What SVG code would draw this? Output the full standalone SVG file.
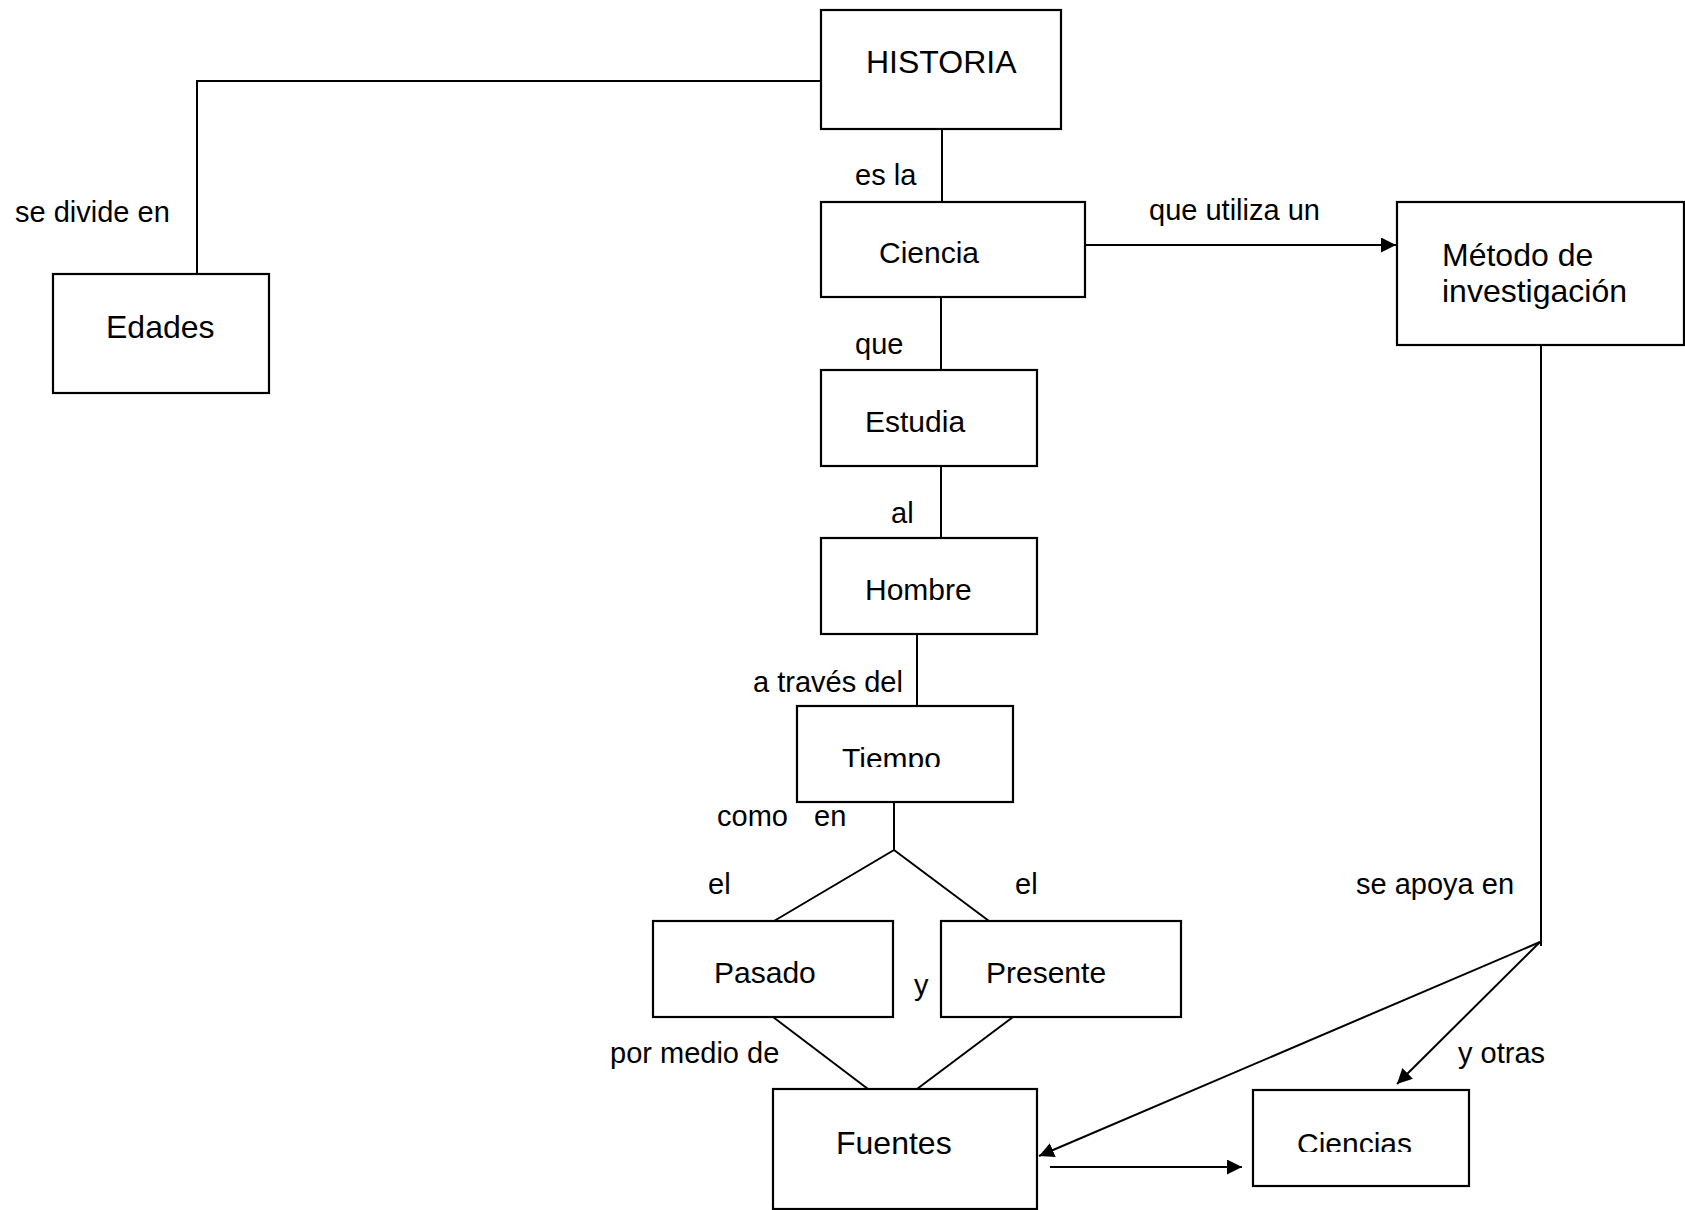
<svg xmlns="http://www.w3.org/2000/svg" width="1685" height="1210" viewBox="0 0 1685 1210">
  <style>
    .box { fill: #ffffff; stroke: #000000; stroke-width: 2.2; }
    .ln { fill: none; stroke: #000000; stroke-width: 2; }
    .t { font-family: "Liberation Sans", Arial, sans-serif; fill: #000000; }
    .lbl { font-size: 29px; }
    .nt { font-size: 30px; }
    .big { font-size: 32px; }
  </style>
  <defs>
    <marker id="arrow" viewBox="0 0 15 15" refX="15" refY="7.5" markerWidth="15" markerHeight="15" markerUnits="userSpaceOnUse" orient="auto">
      <path d="M0,0 L15,7.5 L0,15 Z" fill="#000000"/>
    </marker>
    <clipPath id="clipTiempo"><rect x="797" y="706" width="216" height="61"/></clipPath>
    <clipPath id="clipCiencias"><rect x="1253" y="1090" width="216" height="62"/></clipPath>
  </defs>
  <rect width="1685" height="1210" fill="#ffffff"/>

  <!-- connectors -->
  <g id="connectors">
    <polyline class="ln" points="821,81 197,81 197,274"/>
    <line class="ln" x1="942" y1="129" x2="942" y2="202"/>
    <line class="ln" x1="1085" y1="245" x2="1396" y2="245" marker-end="url(#arrow)"/>
    <line class="ln" x1="941" y1="297" x2="941" y2="370"/>
    <line class="ln" x1="941" y1="466" x2="941" y2="538"/>
    <line class="ln" x1="917" y1="634" x2="917" y2="706"/>
    <polyline class="ln" points="894,802 894,850 774,921"/>
    <line class="ln" x1="894" y1="850" x2="989" y2="921"/>
    <line class="ln" x1="773" y1="1017" x2="868" y2="1089"/>
    <line class="ln" x1="1013" y1="1017" x2="917" y2="1089"/>
    <line class="ln" x1="1541" y1="345" x2="1541" y2="946"/>
    <line class="ln" x1="1540" y1="942" x2="1039" y2="1156" marker-end="url(#arrow)"/>
    <line class="ln" x1="1540" y1="942" x2="1397" y2="1084" marker-end="url(#arrow)"/>
    <line class="ln" x1="1050" y1="1167" x2="1242" y2="1167" marker-end="url(#arrow)"/>
  </g>

  <!-- connector labels -->
  <g id="labels" class="t lbl">
    <text x="15" y="222">se divide en</text>
    <text x="855" y="185">es la</text>
    <text x="1149" y="220">que utiliza un</text>
    <text x="855" y="354">que</text>
    <text x="891" y="523">al</text>
    <text x="753" y="692">a través del</text>
    <text x="717" y="826">como</text>
    <text x="814" y="826">en</text>
    <text x="708" y="894">el</text>
    <text x="1015" y="894">el</text>
    <text x="914" y="995">y</text>
    <text x="610" y="1063">por medio de</text>
    <text x="1356" y="894">se apoya en</text>
    <text x="1458" y="1063">y otras</text>
  </g>

  <g id="historia">
    <rect class="box" x="821" y="10" width="240" height="119"/>
    <text class="t big" x="866" y="73">HISTORIA</text>
  </g>
  <g id="edades">
    <rect class="box" x="53" y="274" width="216" height="119"/>
    <text class="t big" x="106" y="338">Edades</text>
  </g>
  <g id="ciencia">
    <rect class="box" x="821" y="202" width="264" height="95"/>
    <text class="t nt" x="879" y="263">Ciencia</text>
  </g>
  <g id="metodo">
    <rect class="box" x="1397" y="202" width="287" height="143"/>
    <text class="t big" x="1442" y="266">Método de</text>
    <text class="t big" x="1442" y="302">investigación</text>
  </g>
  <g id="estudia">
    <rect class="box" x="821" y="370" width="216" height="96"/>
    <text class="t nt" x="865" y="432">Estudia</text>
  </g>
  <g id="hombre">
    <rect class="box" x="821" y="538" width="216" height="96"/>
    <text class="t nt" x="865" y="600">Hombre</text>
  </g>
  <g id="tiempo">
    <rect class="box" x="797" y="706" width="216" height="96"/>
    <text class="t nt" x="842" y="769" clip-path="url(#clipTiempo)">Tiempo</text>
  </g>
  <g id="pasado">
    <rect class="box" x="653" y="921" width="240" height="96"/>
    <text class="t nt" x="714" y="983">Pasado</text>
  </g>
  <g id="presente">
    <rect class="box" x="941" y="921" width="240" height="96"/>
    <text class="t nt" x="986" y="983">Presente</text>
  </g>
  <g id="fuentes">
    <rect class="box" x="773" y="1089" width="264" height="120"/>
    <text class="t big" x="836" y="1154">Fuentes</text>
  </g>
  <g id="ciencias">
    <rect class="box" x="1253" y="1090" width="216" height="96"/>
    <text class="t nt" x="1297" y="1154" clip-path="url(#clipCiencias)">Ciencias</text>
  </g>
</svg>
